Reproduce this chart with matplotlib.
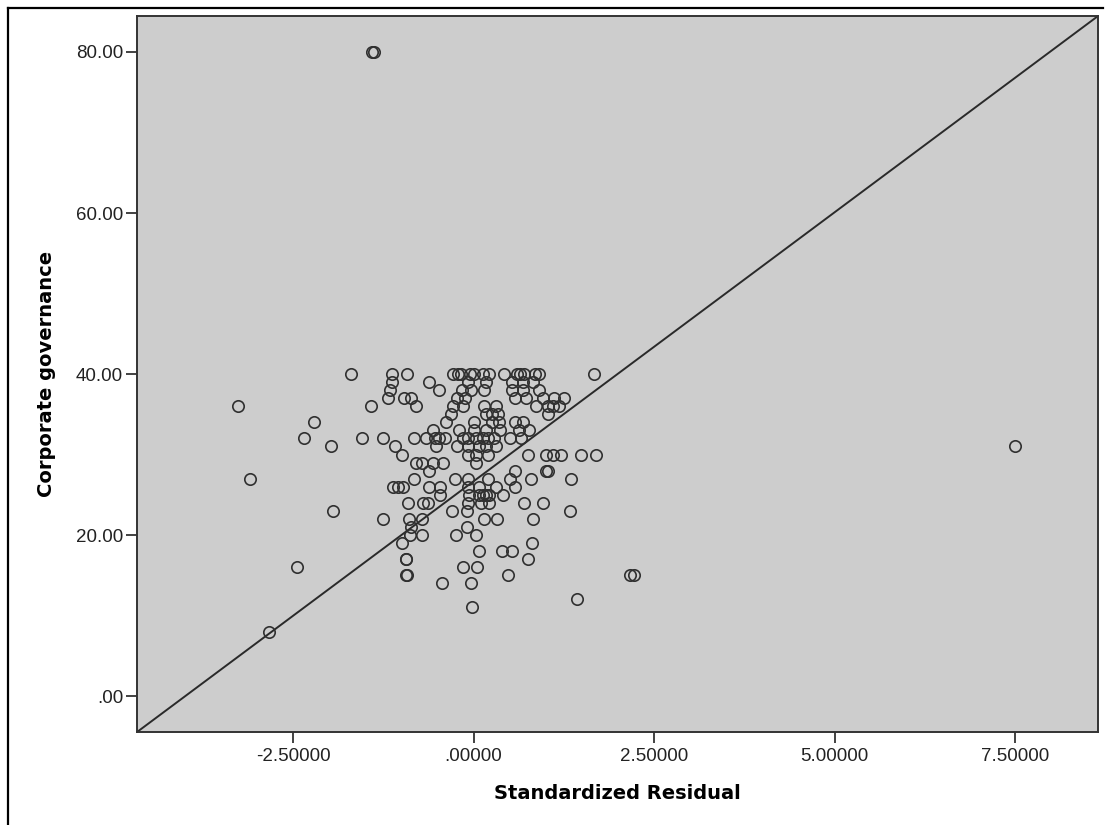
import matplotlib
matplotlib.use("Agg")
import matplotlib.pyplot as plt
from matplotlib.lines import Line2D

# standardized residual (x) vs corporate governance score (y)
residual = [
    -1.40, -1.38,
    -1.70, -1.13, -0.92, -0.28, -0.22, -0.17, -0.05, 0.00, 0.13, 0.21, 0.42, 0.60, 0.65, 0.70, 0.85, 0.91, 1.67,
    -1.13, -0.62, -0.08, 0.18, 0.54, 0.69, 0.82,
    -1.15, -0.48, -0.16, -0.03, 0.15, 0.54, 0.68, 0.91,
    -1.19, -0.96, -0.86, -0.23, -0.12, 0.58, 0.73, 0.96, 1.12, 1.26,
    -3.26, -1.42, -0.79, -0.29, -0.14, 0.15, 0.31, 0.87, 1.03, 1.10, 1.19,
    -0.31, 0.18, 0.25, 0.34, 1.03,
    -2.21, -0.38, 0.00, 0.25, 0.36, 0.57, 0.68,
    -0.56, -0.20, 0.01, 0.18, 0.37, 0.63, 0.77,
    -2.35, -1.55, -1.25, -0.82, -0.66, -0.54, -0.48, -0.40, -0.15, -0.07, 0.04, 0.13, 0.20, 0.29, 0.50, 0.66,
    -1.97, -1.09, -0.52, -0.23, -0.08, 0.08, 0.18, 0.31, 7.50,
    -0.99, -0.08, 0.04, 0.20, 0.75, 1.01, 1.10, 1.21, 1.49, 1.70,
    -0.79, -0.72, -0.56, -0.42, 0.04,
    -0.61, 0.57, 1.01, 1.03,
    -3.10, -0.82, -0.26, -0.08, 0.20, 0.50, 0.80, 1.35,
    -1.12, -1.05, -0.98, -0.61, -0.47, -0.08, 0.08, 0.31, 0.57,
    -0.47, -0.06, 0.08, 0.13, 0.18, 0.22, 0.41,
    -0.91, -0.70, -0.63, -0.08, 0.11, 0.22, 0.70, 0.96,
    -1.94, -0.30, -0.09, 1.33,
    -1.25, -0.89, -0.72, 0.14, 0.33, 0.82,
    -0.86, -0.09,
    -0.88, -0.72, -0.24, 0.04,
    -0.99, 0.81,
    0.08, 0.39, 0.54,
    -0.94, -0.93, 0.75,
    -2.44, -0.14, 0.05,
    -0.93, -0.92, 0.48, 2.17, 2.22,
    -0.43, -0.04,
    1.44,
    -0.02,
    -2.83,
]
governance = (
    [80] * 2 + [40] * 17 + [39] * 7 + [38] * 8 + [37] * 10 + [36] * 11 + [35] * 5
    + [34] * 7 + [33] * 7 + [32] * 16 + [31] * 9 + [30] * 10 + [29] * 5 + [28] * 4
    + [27] * 8 + [26] * 9 + [25] * 7 + [24] * 8 + [23] * 4 + [22] * 6 + [21] * 2
    + [20] * 4 + [19] * 2 + [18] * 3 + [17] * 3 + [16] * 3 + [15] * 5 + [14] * 2
    + [12] + [11] + [8]
)

x_ticks = [-2.5, 0, 2.5, 5, 7.5]
y_ticks = [0, 20, 40, 60, 80]


def spss_fmt(v, dec):
    s = f"{v:.{dec}f}"
    if s.startswith("0"):
        s = s[1:]
    return s


fig = plt.figure(figsize=(11.07, 8.25), dpi=100)
ax = fig.add_axes([0.1238, 0.1127, 0.8681, 0.8679])
ax.set_facecolor("#cdcdcd")

ax.plot(residual, governance, linestyle="none", marker="o", markersize=8.2,
        markerfacecolor="none", markeredgecolor="#303030", markeredgewidth=1.2, zorder=3)
# reference line drawn corner to corner
ax.axline((0, 0), (1, 1), transform=ax.transAxes, color="#2a2a2a", lw=1.4, zorder=2)

ax.set_xlim(-4.66, 8.65)
ax.set_ylim(-4.47, 84.47)
ax.set_xticks(x_ticks)
ax.set_yticks(y_ticks)
ax.set_xticklabels([spss_fmt(v, 5) for v in x_ticks], fontsize=13.5, family="Liberation Sans", color="#222222")
ax.set_yticklabels([spss_fmt(v, 2) for v in y_ticks], fontsize=13.5, family="Liberation Sans", color="#222222")
ax.tick_params(axis="x", length=8, width=1.3, color="#333333", pad=3.5)
ax.tick_params(axis="y", length=8, width=1.3, color="#333333", pad=2)
for s in ax.spines.values():
    s.set_color("#333333")
    s.set_linewidth(1.4)

ax.set_xlabel("Standardized Residual", fontsize=14, fontweight="bold", labelpad=14)
ax.set_ylabel("Corporate governance", fontsize=14, fontweight="bold", labelpad=14)

# outer frame (left and top edges visible)
fig.add_artist(Line2D([7.5 / 1107, 7.5 / 1107], [0, 1 - 7.5 / 825], color="black", lw=1.6,
                      transform=fig.transFigure))
fig.add_artist(Line2D([7.5 / 1107, 1103 / 1107], [1 - 7.5 / 825, 1 - 7.5 / 825], color="black", lw=1.6,
                      transform=fig.transFigure))

fig.savefig("out.png", dpi=100)
